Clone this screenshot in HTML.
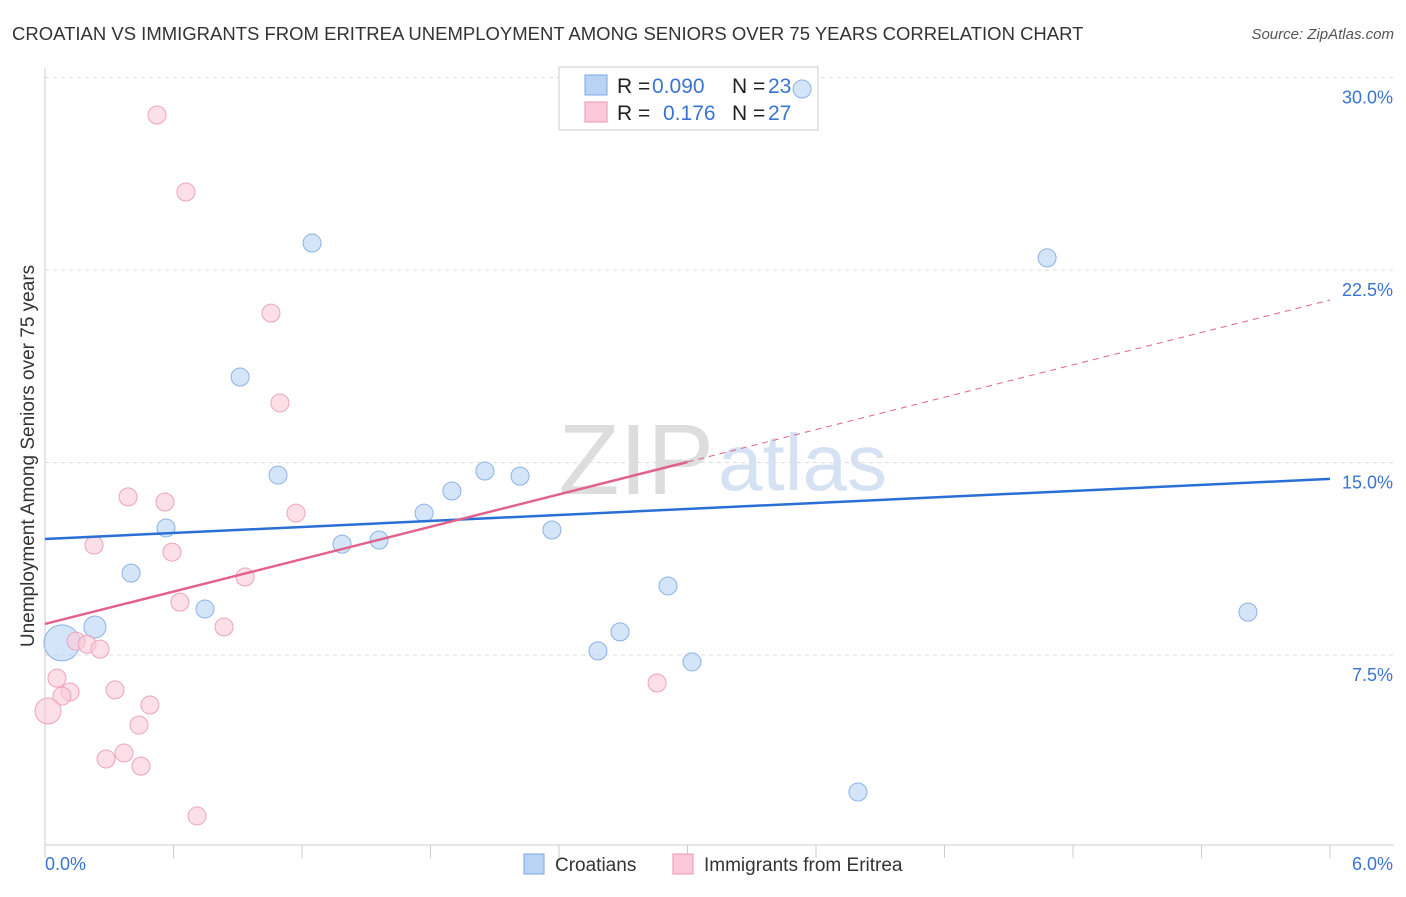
<!DOCTYPE html>
<html><head><meta charset="utf-8"><style>
body{margin:0;background:#fff;font-family:"Liberation Sans",sans-serif;}
svg text{font-family:"Liberation Sans",sans-serif;}
</style></head><body>
<svg id="chart" width="1406" height="892">
<text x="12" y="40" font-size="18.5" fill="#333">CROATIAN VS IMMIGRANTS FROM ERITREA UNEMPLOYMENT AMONG SENIORS OVER 75 YEARS CORRELATION CHART</text>
<text x="1394" y="39" font-size="15" fill="#555" font-style="italic" text-anchor="end">Source: ZipAtlas.com</text>
<text x="34" y="456" font-size="19" fill="#333" text-anchor="middle" transform="rotate(-90 34 456)">Unemployment Among Seniors over 75 years</text>
<text x="714" y="494" font-size="100" fill="#ddd" font-family="Liberation Serif" text-anchor="end">ZIP</text>
<text x="718" y="490" font-size="80" fill="#d4e2f4">atlas</text>
<g id="grid"></g><g id="axes"></g>
<g>
<rect x="559" y="67" width="259" height="63" fill="#fff" stroke="#ccc"/>
<rect x="585" y="75" width="22" height="20" fill="#b9d3f5" stroke="#7aa8e6"/>
<rect x="585" y="102" width="22" height="20" fill="#fbc9d8" stroke="#eb97b4"/>
<text x="617" y="93" font-size="21" fill="#222">R =</text>
<text x="652" y="93" font-size="21" fill="#3a74d0">0.090</text>
<text x="732" y="93" font-size="21" fill="#222">N =</text>
<text x="768" y="93" font-size="21" fill="#3a74d0">23</text>
<text x="617" y="120" font-size="21" fill="#222">R =</text>
<text x="663" y="120" font-size="21" fill="#3a74d0">0.176</text>
<text x="732" y="120" font-size="21" fill="#222">N =</text>
<text x="768" y="120" font-size="21" fill="#3a74d0">27</text>
</g>
<g id="marks"></g>
<g>
<rect x="524" y="854" width="20" height="20" fill="#b9d3f5" stroke="#7aa8e6"/>
<text x="555" y="871" font-size="19" fill="#333">Croatians</text>
<rect x="673" y="854" width="20" height="20" fill="#fbc9d8" stroke="#eb97b4"/>
<text x="704" y="871" font-size="19" fill="#333">Immigrants from Eritrea</text>
</g>
</svg>
<script>
const yTicks=[7.5,15,22.5,30];
const yTickLabels=["7.5%","15.0%","22.5%","30.0%"];
const xTickLabels=["0.0%","6.0%"];
const blueX=[0.079,0.233,0.402,0.565,0.747,0.911,1.088,1.247,1.387,1.560,1.770,1.900,2.054,2.218,2.367,2.582,2.685,2.909,3.021,3.535,3.796,4.679,5.617];
const blueY=[7.97,8.59,10.69,12.45,9.29,18.33,14.51,23.55,11.82,11.98,13.03,13.89,14.67,14.47,12.37,7.66,8.40,10.19,7.23,29.55,2.16,22.97,9.17];
const blueR=[18,11,9,9,9,9,9,9,9,9,9,9,9,9,9,9,9,9,9,9,9,9,9];
const pinkX=[0.523,0.658,1.055,1.097,0.388,0.560,1.172,0.229,0.593,0.934,0.630,0.836,0.145,0.196,0.257,0.056,0.117,0.079,0.327,0.490,0.439,0.014,0.369,0.285,0.448,0.710,2.858];
const pinkY=[28.54,25.54,20.82,17.32,13.66,13.46,13.03,11.78,11.51,10.54,9.56,8.59,8.04,7.92,7.73,6.60,6.06,5.90,6.14,5.55,4.77,5.32,3.68,3.45,3.17,1.23,6.41];
const pinkR=[9,9,9,9,9,9,9,9,9,9,9,9,9,9,9,9,9,9,9,9,9,13,9,9,9,9,9];
const blueTrend=[12.02,14.36];
const pinkTrend=[8.71,21.33];
const pinkSolidEnd=3.0;
const NS="http://www.w3.org/2000/svg";
const X=v=>45+v/6*1285, Y=v=>847.5-v/30*770;
function mk(tag,attrs,parent){const e=document.createElementNS(NS,tag);for(const k in attrs)e.setAttribute(k,attrs[k]);parent.appendChild(e);return e;}
const grid=document.getElementById('grid'),axes=document.getElementById('axes'),marks=document.getElementById('marks');
yTicks.forEach((t,i)=>{
 const l=mk('line',{x1:45,x2:1394,y1:Y(t),y2:Y(t),stroke:'#ddd','stroke-dasharray':'4 4'},grid);
 
 
 const tx=mk('text',{x:1393,y:Y(t)+26,'font-size':18,fill:'#3a74d0','text-anchor':'end'},axes);tx.textContent=yTickLabels[i];
 
 
});
mk('line',{x1:45,x2:45,y1:68,y2:845,stroke:'#ccc'},axes);
mk('line',{x1:45,x2:1394,y1:845,y2:845,stroke:'#ccc'},axes);
for(let i=0;i<=10;i++){const t=mk('line',{x1:X(i*0.6),x2:X(i*0.6),y1:845,y2:858,stroke:'#ccc'},axes);
 
 }
[[0,'start',45],[6,'end',1393]].forEach((a,i)=>{const tx=mk('text',{x:a[2],y:870,'font-size':18,fill:'#3a74d0','text-anchor':a[1]},axes);tx.textContent=xTickLabels[i];
 
 });
function pts(xs,ys,rs,fill,stroke,name){xs.forEach((x,i)=>{const c=mk('circle',{cx:X(x),cy:Y(ys[i]),r:rs[i],fill:fill,stroke:stroke,'stroke-width':1},marks);
 
 });}
pts(blueX,blueY,blueR,'rgba(185,211,245,0.6)','#8ab2e8','croatian-point');
pts(pinkX,pinkY,pinkR,'rgba(251,201,216,0.6)','#eda3bd','eritrea-point');
const bl=mk('line',{x1:X(0),y1:Y(blueTrend[0]),x2:X(6),y2:Y(blueTrend[1]),stroke:'#2a6fd6','stroke-width':2.5},marks);


const py=x=>pinkTrend[0]+(pinkTrend[1]-pinkTrend[0])*x/6;
const pl=mk('line',{x1:X(0),y1:Y(py(0)),x2:X(pinkSolidEnd),y2:Y(py(pinkSolidEnd)),stroke:'#e0628d','stroke-width':2.5},marks);


const pd=mk('line',{x1:X(pinkSolidEnd),y1:Y(py(pinkSolidEnd)),x2:X(6),y2:Y(py(6)),stroke:'#e0628d','stroke-width':1,'stroke-dasharray':'6 5'},marks);


</script>
</body></html>
